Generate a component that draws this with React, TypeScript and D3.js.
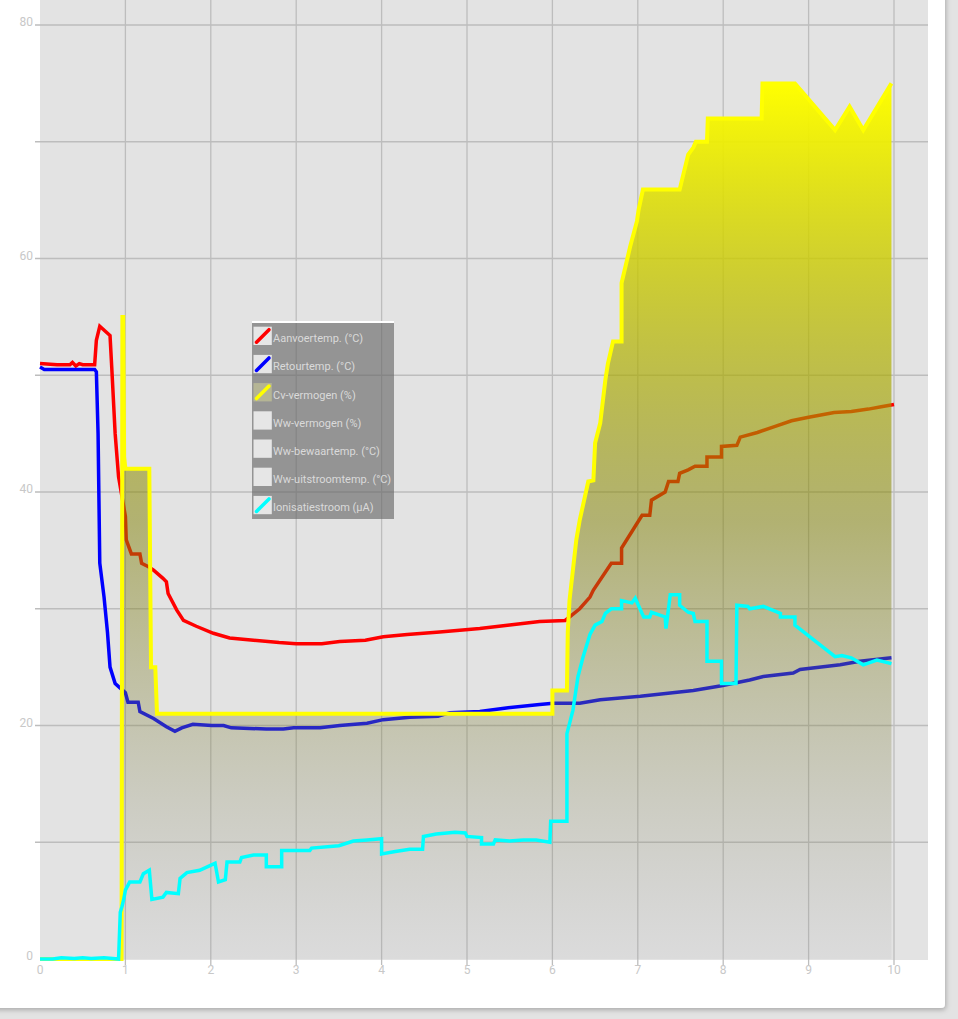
import React, { useEffect, useRef } from 'react';
import * as d3 from 'd3';

// series values: [x, value]
const aanvoertemp: [number, number][] = [
  [0, 51.0], [0.2, 50.9], [0.35, 50.9], [0.38, 51.1], [0.42, 50.8], [0.46, 51.0], [0.5, 50.9], [0.64, 50.9],
  [0.66, 53.0], [0.7, 54.2], [0.82, 53.4], [0.84, 50.7], [0.88, 45], [0.92, 41.3], [0.96, 39.6], [1.0, 37.9],
  [1.01, 35.9], [1.07, 34.7], [1.17, 34.7], [1.19, 33.9], [1.27, 33.6], [1.33, 33.3], [1.44, 32.6], [1.48, 32.3],
  [1.5, 31.3], [1.6, 29.9], [1.68, 29.0], [1.83, 28.5], [2.03, 27.9], [2.22, 27.5], [2.5, 27.3], [2.8, 27.1],
  [3.0, 27.0], [3.3, 27.0], [3.51, 27.2], [3.81, 27.3], [4.02, 27.6], [4.3, 27.8], [4.68, 28.0], [5.15, 28.3],
  [5.5, 28.6], [5.85, 28.9], [6.15, 29.0], [6.32, 30.0], [6.44, 31.0], [6.48, 31.6], [6.69, 33.9], [6.81, 33.9],
  [6.81, 35.2], [7.05, 38.0], [7.14, 38.0], [7.16, 39.3], [7.32, 40.0], [7.36, 40.9], [7.47, 40.9], [7.49, 41.6],
  [7.59, 41.9], [7.67, 42.2], [7.81, 42.2], [7.81, 43.0], [7.98, 43.0], [7.98, 43.9], [8.16, 44.0], [8.2, 44.7],
  [8.4, 45.1], [8.6, 45.6], [8.8, 46.1], [9.0, 46.4], [9.3, 46.8], [9.5, 46.9], [9.7, 47.1], [9.85, 47.3], [10.0, 47.5],
];

const retourtemp: [number, number][] = [
  [0, 50.7], [0.05, 50.5], [0.64, 50.5], [0.66, 50.3], [0.68, 45], [0.7, 33.9], [0.75, 31.0], [0.79, 28.0],
  [0.82, 25.0], [0.88, 23.6], [0.94, 23.2], [1.0, 22.8], [1.03, 22.0], [1.15, 22.0], [1.17, 21.2], [1.33, 20.6],
  [1.48, 19.9], [1.58, 19.5], [1.66, 19.8], [1.79, 20.1], [2.01, 20.0], [2.15, 20.0], [2.24, 19.8], [2.65, 19.7],
  [2.85, 19.7], [2.97, 19.8], [3.28, 19.8], [3.51, 20.0], [3.83, 20.2], [4.02, 20.5], [4.33, 20.7], [4.66, 20.8],
  [4.8, 21.1], [5.15, 21.2], [5.46, 21.5], [5.85, 21.8], [6.01, 21.9], [6.32, 21.9], [6.56, 22.2], [7.03, 22.5],
  [7.65, 23.0], [7.98, 23.4], [8.31, 23.9], [8.47, 24.2], [8.82, 24.5], [8.9, 24.8], [9.37, 25.2], [9.6, 25.5],
  [9.97, 25.8],
];

const cvVermogen: [number, number][] = [
  [0, 0], [0.955, 0], [0.965, 55], [0.975, 55], [0.985, 43], [1.0, 42], [1.28, 42], [1.3, 25], [1.35, 25],
  [1.37, 21], [6.0, 21], [6.0, 23], [6.17, 23], [6.18, 28], [6.2, 30.7], [6.28, 35.9], [6.32, 37.6], [6.42, 40.9],
  [6.48, 41.0], [6.5, 44.2], [6.56, 45.9], [6.62, 49.6], [6.65, 51.0], [6.71, 52.9], [6.81, 52.9], [6.81, 57.9],
  [6.91, 61.0], [6.99, 63.2], [7.01, 64.2], [7.06, 65.9], [7.49, 65.9], [7.59, 68.9], [7.65, 69.5], [7.68, 70],
  [7.81, 70], [7.82, 72], [8.45, 72], [8.46, 75], [8.84, 75], [9.31, 71], [9.48, 73], [9.64, 71], [9.97, 75],
];

const ionisatiestroom: [number, number][] = [
  [0, 0], [0.15, 0], [0.25, 0.1], [0.4, 0.05], [0.5, 0.1], [0.6, 0.05], [0.75, 0.1], [0.92, 0], [0.94, 4.0],
  [0.96, 4.5], [0.98, 5.1], [1.0, 5.9], [1.05, 6.6], [1.17, 6.6], [1.21, 7.3], [1.28, 7.6], [1.31, 5.1],
  [1.44, 5.3], [1.48, 5.7], [1.62, 5.6], [1.64, 6.9], [1.72, 7.4], [1.87, 7.6], [1.99, 8.0], [2.05, 8.2],
  [2.09, 6.6], [2.17, 6.8], [2.19, 8.3], [2.34, 8.3], [2.36, 8.7], [2.5, 8.9], [2.65, 8.9], [2.65, 7.9],
  [2.83, 7.9], [2.83, 9.3], [3.16, 9.3], [3.18, 9.5], [3.5, 9.7], [3.67, 10.1], [3.83, 10.2], [4.0, 10.3],
  [4.0, 9.0], [4.16, 9.2], [4.33, 9.4], [4.48, 9.4], [4.49, 10.5], [4.64, 10.7], [4.86, 10.85], [4.98, 10.8],
  [5.0, 10.5], [5.17, 10.4], [5.17, 9.85], [5.31, 9.85], [5.33, 10.2], [5.5, 10.1], [5.66, 10.2], [5.81, 10.2],
  [5.97, 10.0], [5.98, 11.8], [6.17, 11.8], [6.17, 19.3], [6.24, 21.3], [6.3, 24.2], [6.36, 25.9], [6.44, 27.8],
  [6.5, 28.6], [6.58, 28.9], [6.62, 29.6], [6.69, 30.0], [6.81, 30.0], [6.81, 30.7], [6.93, 30.5], [6.97, 30.9],
  [7.05, 29.6], [7.07, 29.3], [7.14, 29.3], [7.16, 29.7], [7.32, 29.3], [7.33, 28.3], [7.38, 31.2], [7.49, 31.2],
  [7.49, 30.3], [7.59, 29.7], [7.65, 29.6], [7.67, 28.9], [7.81, 28.9], [7.81, 25.5], [7.98, 25.5], [7.98, 23.6],
  [8.15, 23.6], [8.16, 30.3], [8.29, 30.2], [8.31, 30.0], [8.47, 30.2], [8.67, 29.6], [8.67, 29.3], [8.84, 29.3],
  [8.84, 28.6], [9.31, 25.9], [9.39, 26.0], [9.5, 25.8], [9.64, 25.2], [9.8, 25.6], [9.97, 25.3],
];

const legendLabels = [
  'Aanvoertemp. (°C)', 'Retourtemp. (°C)', 'Cv-vermogen (%)', 'Ww-vermogen (%)',
  'Ww-bewaartemp. (°C)', 'Ww-uitstroomtemp. (°C)', 'Ionisatiestroom (µA)',
];
const legendColors = ['#ff0000', '#0000ff', '#ffff00', null, null, null, '#00ffff'];

const xTicks = [0, 1, 2, 3, 4, 5, 6, 7, 8, 9, 10];
const yGrid = [10, 20, 30, 40, 50, 60, 70, 80];
const yTickLabels = [0, 20, 40, 60, 80];

function drawChart(svgRef: React.RefObject<SVGSVGElement>) {
  const svg = d3.select(svgRef.current);
  svg.selectAll('*').remove();

  const W = 958;
  const H = 1019;
  const plot = { left: 40, right: 928, top: 0, bottom: 960 };

  const x = d3.scaleLinear().domain([0, 10]).range([40, 894]);
  const y = d3.scaleLinear().domain([0, 80]).range([959, 25]);

  svg.attr('width', W).attr('height', H);

  const defs = svg.append('defs');
  const shadow = defs.append('filter').attr('id', 'cardShadow')
    .attr('x', '-5%').attr('y', '-5%').attr('width', '110%').attr('height', '110%');
  shadow.append('feDropShadow').attr('dx', 1).attr('dy', 2).attr('stdDeviation', 2.5)
    .attr('flood-color', '#000').attr('flood-opacity', 0.25);

  const grad = defs.append('linearGradient').attr('id', 'cvFill')
    .attr('gradientUnits', 'userSpaceOnUse')
    .attr('x1', 0).attr('x2', 0).attr('y1', y(75)).attr('y2', y(0));
  grad.append('stop').attr('offset', 0).attr('stop-color', '#ffff00').attr('stop-opacity', 1);
  grad.append('stop').attr('offset', 0.5).attr('stop-color', '#808000').attr('stop-opacity', 0.5);
  grad.append('stop').attr('offset', 1).attr('stop-color', '#808080').attr('stop-opacity', 0.08);

  // page + card
  svg.append('rect').attr('width', W).attr('height', H).attr('fill', '#e3e3e3');
  svg.append('rect').attr('x', -10).attr('y', -10).attr('width', 955).attr('height', 1018)
    .attr('rx', 4).attr('fill', '#ffffff').attr('filter', 'url(#cardShadow)');

  // plot background
  svg.append('rect')
    .attr('x', plot.left).attr('y', plot.top)
    .attr('width', plot.right - plot.left).attr('height', plot.bottom - plot.top)
    .attr('fill', '#e3e3e3');

  // grid
  const grid = svg.append('g').attr('stroke', '#bdbdbd').attr('stroke-width', 1.3);
  grid.selectAll('line.h').data(yGrid).join('line')
    .attr('x1', 35).attr('x2', plot.right)
    .attr('y1', d => y(d)).attr('y2', d => y(d));
  grid.selectAll('line.v').data(xTicks.filter(d => d > 0)).join('line')
    .attr('x1', d => x(d)).attr('x2', d => x(d))
    .attr('y1', plot.top).attr('y2', 965);

  // tick labels
  const labels = svg.append('g').attr('font-family', 'Roboto, sans-serif').attr('font-size', 12).attr('fill', '#c8c8c8');
  labels.selectAll('text.y').data(yTickLabels).join('text')
    .attr('x', 33).attr('y', d => y(d) + 1).attr('text-anchor', 'end')
    .text(d => String(d));
  labels.selectAll('text.x').data(xTicks).join('text')
    .attr('x', d => x(d)).attr('y', 974).attr('text-anchor', 'middle')
    .text(d => String(d));

  const line = d3.line<[number, number]>().x(d => x(d[0])).y(d => y(d[1]));
  const area = d3.area<[number, number]>().x(d => x(d[0])).y0(y(0)).y1(d => y(d[1]));

  svg.append('path').attr('d', line(aanvoertemp)).attr('fill', 'none')
    .attr('stroke', '#ff0000').attr('stroke-width', 3.5);
  svg.append('path').attr('d', line(retourtemp)).attr('fill', 'none')
    .attr('stroke', '#0000ff').attr('stroke-width', 3.5);

  svg.append('path').attr('d', area(cvVermogen)).attr('fill', 'url(#cvFill)');
  svg.append('path').attr('d', line(cvVermogen)).attr('fill', 'none')
    .attr('stroke', '#ffff00').attr('stroke-width', 4);

  svg.append('path').attr('d', line(ionisatiestroom)).attr('fill', 'none')
    .attr('stroke', '#00ffff').attr('stroke-width', 3.5);

  // legend
  const lg = svg.append('g').attr('transform', 'translate(252,321)');
  lg.append('rect').attr('width', 142).attr('height', 198).attr('fill', 'rgba(100,100,100,0.62)');
  lg.append('line').attr('x1', 0).attr('x2', 142).attr('y1', 1).attr('y2', 1)
    .attr('stroke', '#ffffff').attr('stroke-width', 2);
  const rows = lg.selectAll('g.row').data(legendLabels).join('g')
    .attr('transform', (_, i) => `translate(1.5,${5.7 + i * 28.2})`);
  rows.append('rect').attr('width', 18.3).attr('height', 18.3)
    .attr('fill', (_, i) => (i === 2 ? '#b5b595' : '#e6e6e6'));
  rows.filter((_, i) => legendColors[i] !== null).append('line')
    .attr('x1', 3).attr('y1', 15.5).attr('x2', 15.5).attr('y2', 3)
    .attr('stroke', d => legendColors[legendLabels.indexOf(d)] as string)
    .attr('stroke-width', 3.5).attr('stroke-linecap', 'round');
  rows.append('text').attr('x', 19.5).attr('y', 15.5)
    .attr('font-family', 'Roboto, sans-serif').attr('font-size', 11).attr('fill', '#dadada')
    .text(d => d);
}

const App = () => {
  const svg = useRef<SVGSVGElement>(null);

  useEffect(() => {
    drawChart(svg);
  }, [svg]);

  return (
    <div id="chart" style={{ position: 'absolute', left: 0, top: 0 }}>
      <svg ref={svg} style={{ display: 'block' }} />
    </div>
  );
};

export default App;
